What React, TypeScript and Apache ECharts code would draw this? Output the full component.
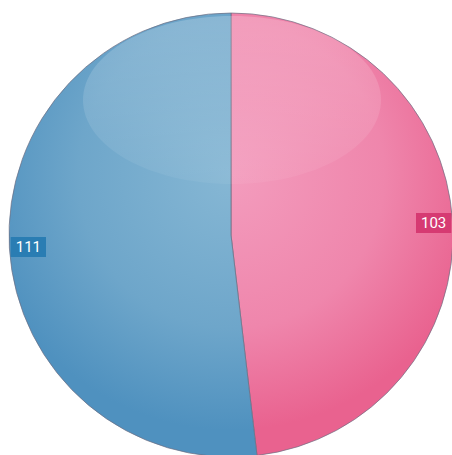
import React, { useEffect, useRef } from "react";
import * as echarts from "echarts";

const categories = ["B", "A"];
const values = [103, 111];
const baseColors = [
  ["#f39cbd", "#ef86ac", "#e9628f"],
  ["#86b7d4", "#6ea6ca", "#4f91bf"],
];
const labelBg = ["#d63a72", "#2a7db3"];

export default function App() {
  const ref = useRef<HTMLDivElement>(null);
  useEffect(() => {
    const chart = echarts.init(ref.current!, null, { renderer: "svg" });
    const cx = 231, cy = 235, R = 222;
    const data = categories.map((c, i) => ({
      name: c,
      value: values[i],
      itemStyle: {
        color: new echarts.graphic.RadialGradient(cx, cy - 60, R * 1.15, [
          { offset: 0, color: baseColors[i][0] },
          { offset: 0.6, color: baseColors[i][1] },
          { offset: 1, color: baseColors[i][2] },
        ], true),
      },
    }));
    chart.setOption({
      animation: false,
      series: [
        {
          type: "pie",
          center: [cx, cy],
          radius: [0, R],
          startAngle: 90,
          clockwise: true,
          silent: true,
          label: { show: false },
          labelLine: { show: false },
          itemStyle: { borderColor: "rgba(110,110,130,0.7)", borderWidth: 1 },
          data,
        },
        {
          type: "pie",
          center: [cx, cy],
          radius: [176, 224],
          startAngle: 90,
          clockwise: true,
          silent: true,
          z: 5,
          itemStyle: { color: "transparent", borderWidth: 0 },
          labelLine: { show: false },
          label: {
            show: true,
            position: "inside",
            formatter: "{c}",
            color: "#fff",
            fontSize: 15,
            fontFamily: "Roboto, sans-serif",
            padding: [3, 5, 2, 5],
          },
          data: categories.map((c, i) => ({
            name: c,
            value: values[i],
            label: { backgroundColor: labelBg[i] },
          })),
        },
      ],
      graphic: [
        {
          type: "ellipse",
          shape: { cx: 232, cy: 100, rx: 149, ry: 84 },
          silent: true,
          z: 3,
          style: {
            fill: new echarts.graphic.LinearGradient(0, 0, 0, 1, [
              { offset: 0, color: "rgba(255,255,255,0.2)" },
              { offset: 1, color: "rgba(255,255,255,0.05)" },
            ]),
          },
        },
      ],
    });
    return () => chart.dispose();
  }, []);
  return (
    <div
      ref={ref}
      style={{ position: "absolute", left: 0, top: 0, width: 452, height: 455, background: "#fff" }}
    />
  );
}
